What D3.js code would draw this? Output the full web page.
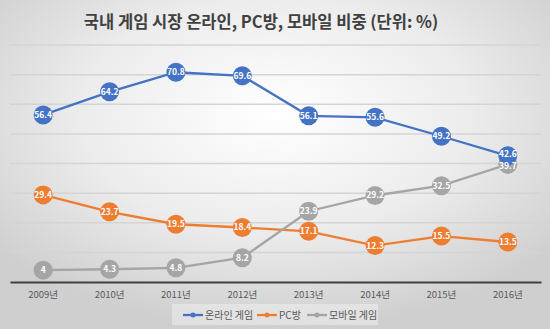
<!DOCTYPE html>
<html>
<head>
<meta charset="utf-8">
<script src="https://cdn.jsdelivr.net/npm/d3@7"></script>
<style>
  body { margin: 0; }
  svg { display: block; font-family: "Noto Sans CJK KR", "Noto Sans", sans-serif; }
</style>
</head>
<body>
<div class="lineChart"></div>
<script>
var years = ["2009년", "2010년", "2011년", "2012년", "2013년", "2014년", "2015년", "2016년"];
var online = [56.4, 64.2, 70.8, 69.6, 56.1, 55.6, 49.2, 42.6];
var pcBang = [29.4, 23.7, 19.5, 18.4, 17.1, 12.3, 15.5, 13.5];
var mobile = [4, 4.3, 4.8, 8.2, 23.9, 29.2, 32.5, 39.7];
var seriesNames = ["온라인 게임", "PC방", "모바일 게임"];
var yTicks = [0, 10, 20, 30, 40, 50, 60, 70, 80];

var colors = ["#4472c4", "#ed7d31", "#a5a5a5"];
var series = [online, pcBang, mobile].map(function (vals, i) {
    return { name: seriesNames[i], color: colors[i], values: vals };
});

var width = 550, height = 329;

var svg = d3.select(".lineChart").append("svg")
    .attr("width", width)
    .attr("height", height);

var defs = svg.append("defs");
var grad = defs.append("radialGradient")
    .attr("id", "bg")
    .attr("cx", "50%").attr("cy", "35%").attr("r", "65%");
grad.append("stop").attr("offset", "0%").attr("stop-color", "#ffffff");
grad.append("stop").attr("offset", "55%").attr("stop-color", "#ececec");
grad.append("stop").attr("offset", "100%").attr("stop-color", "#cfcfcf");

svg.append("rect")
    .attr("width", width).attr("height", height)
    .attr("fill", "url(#bg)");

// title
svg.append("text")
    .attr("x", 261).attr("y", 28)
    .attr("text-anchor", "middle")
    .attr("font-size", "16.5px")
    .attr("font-weight", "bold")
    .attr("fill", "#404040")
    .text("국내 게임 시장 온라인, PC방, 모바일 비중 (단위: %)");

var x = d3.scaleBand().domain(years).range([10, 541]);
var y = d3.scaleLinear().domain([0, 80]).range([282, 45]);

// gridlines
svg.append("g").selectAll("line")
    .data(yTicks.slice(1))
    .enter().append("line")
    .attr("x1", 10).attr("x2", 541)
    .attr("y1", function (d) { return y(d); })
    .attr("y2", function (d) { return y(d); })
    .attr("stroke", "#d4d4d4")
    .attr("stroke-width", 1.5);

// category axis
var xAxis = svg.append("g")
    .attr("transform", "translate(0," + y(0) + ")")
    .call(d3.axisBottom(x).tickSize(0).tickPadding(9));
xAxis.select(".domain").attr("stroke", "#404040").attr("stroke-width", 2);
xAxis.selectAll("text")
    .attr("fill", "#595959")
    .attr("font-size", "9.5px")
    .attr("font-family", "\"Noto Sans CJK KR\", sans-serif");

function cx(i) { return x(years[i]) + x.bandwidth() / 2; }

var line = d3.line()
    .x(function (d, i) { return cx(i); })
    .y(function (d) { return y(d); });

// lines, then markers (later series under earlier ones), then labels on top
series.forEach(function (s) {
    svg.append("path")
        .datum(s.values)
        .attr("fill", "none")
        .attr("stroke", s.color)
        .attr("stroke-width", 2.3)
        .attr("d", line);
});

series.slice().reverse().forEach(function (s) {
    svg.append("g").selectAll("circle")
        .data(s.values)
        .enter().append("circle")
        .attr("cx", function (d, i) { return cx(i); })
        .attr("cy", function (d) { return y(d); })
        .attr("r", 9.5)
        .attr("fill", s.color);
});

// push apart labels that sit too close in the same year
var minGap = 12.5;
function labelShift(si, i) {
    var me = y(series[si].values[i]), shift = 0;
    series.forEach(function (o, oi) {
        if (oi === si) return;
        var other = y(o.values[i]);
        var gap = Math.abs(me - other);
        if (gap < minGap) shift += (me < other ? -1 : 1) * (minGap - gap) / 2;
    });
    return shift;
}

series.forEach(function (s, si) {
    svg.append("g").selectAll("text")
        .data(s.values)
        .enter().append("text")
        .attr("x", function (d, i) { return cx(i); })
        .attr("y", function (d, i) { return y(d) + labelShift(si, i); })
        .attr("text-anchor", "middle")
        .attr("dy", "0.35em")
        .attr("font-size", "8.5px")
        .attr("font-weight", "bold")
        .attr("fill", "#ffffff")
        .text(function (d) { return d; });
});

// legend
var legend = svg.append("g");
legend.append("rect")
    .attr("x", 172).attr("y", 304)
    .attr("width", 206).attr("height", 21)
    .attr("fill", "#ffffff").attr("fill-opacity", 0.35);

var legendX = [183, 257, 307];
series.forEach(function (s, i) {
    var item = legend.append("g").attr("transform", "translate(" + legendX[i] + ",315)");
    item.append("line")
        .attr("x1", 0).attr("x2", 20)
        .attr("stroke", s.color).attr("stroke-width", 2.3);
    item.append("circle")
        .attr("cx", 10).attr("r", 2.5)
        .attr("fill", s.color);
    item.append("text")
        .attr("x", 22).attr("dy", "0.35em")
        .attr("font-size", "10px")
        .attr("fill", "#595959")
        .text(s.name);
});
</script>
</body>
</html>
